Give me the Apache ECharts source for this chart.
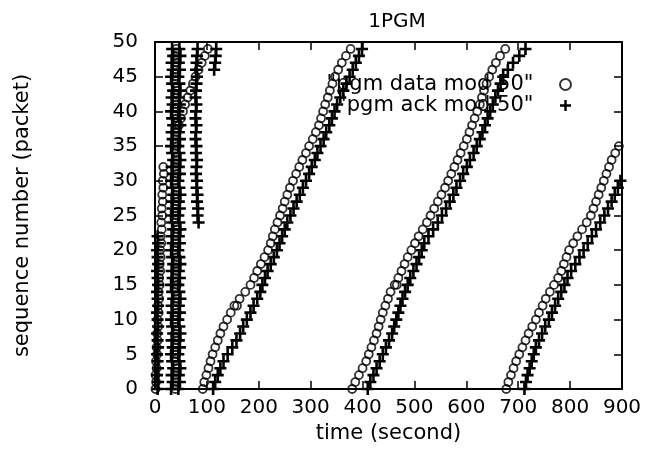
<!DOCTYPE html>
<html>
<head>
<meta charset="utf-8">
<script src="https://cdn.jsdelivr.net/npm/echarts@6/dist/echarts.min.js"></script>
<style>html,body{margin:0;padding:0;background:#fff;}#c{width:650px;height:452px;}</style>
</head>
<body>
<div id="c"></div>
<script>
// ---- data: [time (s), sequence number mod 50] ----
const dataEarly = [
[1,0],[2,1],[1,2],[3,3],[2,4],[4,5],[3,6],[5,7],[4,8],[6,9],[5,10],[7,11],[6,12],[8,13],[7,14],[9,15],[8,16],[10,17],[9,18],[11,19],[10,20],[12,21],[11,22],[13,23],[12,24],[14,25],[13,26],[15,27],[14,28],[16,29],[15,30],[17,31],[16,32],
[39,0],[41,1],[40,2],[42,3],[39,4],[41,5],[40,6],[42,7],[39,8],[41,9],[40,10],[42,11],[39,12],[41,13],[40,14],[42,15],[39,16],[41,17],[40,18],[42,19],[39,20],[41,21],[40,22],[42,23],[39,24],[41,25],[40,26],[42,27],[39,28],[41,29],[40,30],[42,31],[39,32],[41,33],[40,34],[42,35],[39,36],[41,37],[40,38],[42,39],[39,40],[41,41],[40,42],[42,43],[39,44],[41,45],[40,46],[42,47],[39,48],[41,49],
[46,38],[50,39],[54,40],[58,41],[63,42],[68,43],[73,44],[78,45],[84,46],[90,47],[96,48],[102,49]
];
const dataRamp1 = [
[92,0],[95,1],[99,2],[103,3],[107,4],[111,5],[116,6],[121,7],[126,8],[132,9],[139,10],[146,11],[153,12],[158,12],[163,13],[174,14],[184,15],[191,16],[197,17],[204,18],[211,19],[218,20],[223,21],[227,22],[231,23],[236,24],[241,25],[246,26],[250,27],[255,28],[260,29],[266,30],[272,31],[278,32],[284,33],[291,34],[297,35],[304,36],[310,37],[316,38],[320,39],[324,40],[328,41],[333,42],[337,43],[342,44],[347,45],[353,46],[360,47],[368,48],[377,49]
];
const dataRamp2 = [
[380,0],[386,1],[393,2],[400,3],[407,4],[412,5],[417,6],[422,7],[427,8],[431,9],[435,10],[439,11],[444,12],[449,13],[454,14],[462,15],[466,15],[469,16],[475,17],[481,18],[487,19],[494,20],[501,21],[508,22],[516,23],[524,24],[531,25],[538,26],[545,27],[552,28],[559,29],[565,30],[571,31],[577,32],[583,33],[589,34],[595,35],[601,36],[606,37],[611,38],[616,39],[621,40],[626,41],[630,42],[634,43],[639,44],[644,45],[650,46],[657,47],[665,48],[675,49]
];
const dataRamp3 = [
[677,0],[681,1],[686,2],[691,3],[696,4],[702,5],[708,6],[714,7],[720,8],[727,9],[734,10],[740,11],[747,12],[753,13],[761,14],[769,15],[777,16],[783,17],[788,18],[793,19],[798,20],[806,21],[814,22],[823,23],[832,24],[840,25],[845,26],[850,27],[855,28],[860,29],[865,30],[870,31],[875,32],[880,33],[887,34],[894,35]
];
const ackEarly = [
[5,0],[6,1],[4,2],[6,3],[5,4],[4,5],[6,6],[5,7],[4,8],[6,9],[5,10],[4,11],[6,12],[5,13],[4,14],[6,15],[5,16],[4,17],[6,18],[5,19],[4,20],[6,21],[5,22],
[31,0],[34,1],[32,2],[35,3],[33,4],[31,5],[34,6],[32,7],[35,8],[33,9],[31,10],[34,11],[32,12],[35,13],[33,14],[31,15],[34,16],[32,17],[35,18],[33,19],[31,20],[34,21],[32,22],[35,23],[33,24],[31,25],[34,26],[32,27],[35,28],[33,29],[31,30],[34,31],[32,32],[35,33],[33,34],[31,35],[34,36],[32,37],[35,38],[33,39],[31,40],[34,41],[32,42],[35,43],[33,44],[31,45],[34,46],[32,47],[35,48],[33,49],
[45,0],[48,1],[46,2],[49,3],[47,4],[45,5],[48,6],[46,7],[49,8],[47,9],[45,10],[48,11],[46,12],[49,13],[47,14],[45,15],[48,16],[46,17],[49,18],[47,19],[45,20],[48,21],[46,22],[49,23],[47,24],[45,25],[48,26],[46,27],[49,28],[47,29],[45,30],[48,31],[46,32],[49,33],[47,34],[45,35],[48,36],[46,37],[49,38],[47,39],[45,40],[48,41],[46,42],[49,43],[47,44],[45,45],[48,46],[46,47],[49,48],[47,49],
[84,24],[82,25],[83,26],[81,27],[82,28],[80,29],[81,30],[79,31],[80,32],[81,33],[79,34],[80,35],[78,36],[79,37],[80,38],[78,39],[79,40],[80,41],[78,42],[79,43],[80,44],[81,45],[79,46],[80,47],[81,48],[82,49],
[114,46],[116,47],[117,48],[118,49]
];
const ackRamp1 = [
[112,0],[116,1],[121,2],[126,3],[132,4],[140,5],[149,6],[157,7],[164,8],[170,9],[177,10],[184,11],[190,12],[197,13],[203,14],[207,15],[212,16],[217,17],[223,18],[229,19],[235,20],[240,21],[245,22],[250,23],[255,24],[261,25],[267,26],[273,27],[279,28],[285,29],[291,30],[297,31],[302,32],[308,33],[313,34],[319,35],[325,36],[330,37],[336,38],[341,39],[346,40],[351,41],[357,42],[363,43],[369,44],[375,45],[381,46],[387,47],[393,48],[399,49]
];
const ackRamp2 = [
[410,0],[415,1],[421,2],[427,3],[433,4],[439,5],[445,6],[451,7],[457,8],[461,9],[465,10],[469,11],[473,12],[477,13],[482,14],[487,15],[492,16],[498,17],[504,18],[509,19],[514,20],[519,21],[527,22],[536,23],[545,24],[553,25],[561,26],[568,27],[575,28],[581,29],[588,30],[594,31],[601,32],[607,33],[614,34],[620,35],[626,36],[631,37],[636,38],[641,39],[646,40],[651,41],[656,42],[661,43],[666,44],[671,45],[680,46],[690,47],[702,48],[714,49]
];
const ackRamp3 = [
[712,0],[715,1],[718,2],[722,3],[726,4],[730,5],[734,6],[740,7],[746,8],[752,9],[759,10],[765,11],[771,12],[777,13],[783,14],[789,15],[795,16],[802,17],[810,18],[818,19],[826,20],[834,21],[842,22],[850,23],[858,24],[866,25],[873,26],[880,27],[886,28],[892,29],[897,30]
];
const seriesNames = ['"pgm data mod 50"', '"pgm ack mod 50"'];
const xRange = [0, 900], xStep = 100;
const yRange = [0, 50], yStep = 5;
const titleText = '1PGM';
const xName = 'time (second)';
const yName = 'sequence number (packet)';

const FONT = 'DejaVu Sans';
const plusPath = 'path://M4.7,0H7.3V4.7H12V7.3H7.3V12H4.7V7.3H0V4.7H4.7Z';
const axisCommon = {
  type: 'value',
  axisLine: { show: true, onZero: false, lineStyle: { color: '#000', width: 2 } },
  axisTick: { show: true, inside: true, length: 8, lineStyle: { color: '#000', width: 1.5 } },
  splitLine: { show: false }
};
const chart = echarts.init(document.getElementById('c'));
chart.setOption({
  backgroundColor: '#fff',
  animation: false,
  title: { text: titleText, left: 392, top: 7, textAlign: 'center',
    textStyle: { fontFamily: FONT, fontSize: 20, fontWeight: 'normal', color: '#000' } },
  grid: { left: 155, right: 28, top: 42, bottom: 63 },
  legend: {
    data: seriesNames, orient: 'vertical', align: 'right', right: 73, top: 69,
    itemWidth: 54, itemHeight: 11, itemGap: 0,
    textStyle: { fontFamily: FONT, fontSize: 21, color: '#000', lineHeight: 20 }
  },
  xAxis: [
    Object.assign({}, axisCommon, { min: xRange[0], max: xRange[1], interval: xStep, position: 'bottom',
      axisLabel: { color: '#000', fontFamily: FONT, fontSize: 20, margin: 9 },
      name: xName, nameLocation: 'middle', nameGap: 28,
      nameTextStyle: { fontFamily: FONT, fontSize: 21, color: '#000' } }),
    Object.assign({}, axisCommon, { min: xRange[0], max: xRange[1], interval: xStep, position: 'top',
      axisLabel: { show: false } })
  ],
  yAxis: [
    Object.assign({}, axisCommon, { min: yRange[0], max: yRange[1], interval: yStep, position: 'left',
      axisLabel: { color: '#000', fontFamily: FONT, fontSize: 20, margin: 17 },
      name: yName, nameLocation: 'middle', nameGap: 122,
      nameTextStyle: { fontFamily: FONT, fontSize: 21, color: '#000' } }),
    Object.assign({}, axisCommon, { min: yRange[0], max: yRange[1], interval: yStep, position: 'right',
      axisLabel: { show: false } })
  ],
  series: [
    { name: seriesNames[0], type: 'scatter', xAxisIndex: 0, yAxisIndex: 0,
      symbol: 'circle', symbolSize: 8,
      itemStyle: { color: 'rgba(0,0,0,0)', borderColor: '#000', borderWidth: 1.8 },
      data: [].concat(dataEarly, dataRamp1, dataRamp2, dataRamp3) },
    { name: seriesNames[1], type: 'scatter', xAxisIndex: 0, yAxisIndex: 0,
      symbol: plusPath, symbolSize: 12,
      itemStyle: { color: '#000', opacity: 1 },
      data: [].concat(ackEarly, ackRamp1, ackRamp2, ackRamp3) }
  ]
});
</script>
</body>
</html>
